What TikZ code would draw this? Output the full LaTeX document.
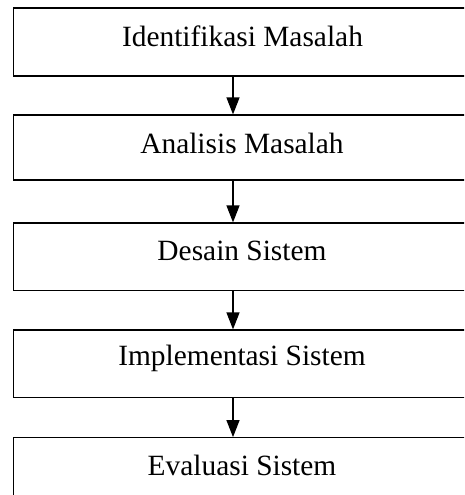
\documentclass[tikz,border=0pt]{standalone}
\usepackage{fontspec}
\setmainfont{Liberation Serif}
\usetikzlibrary{arrows.meta}
\begin{document}
\begin{tikzpicture}[x=1pt,y=-1pt,
  box/.style={draw=black, line width=1.2pt, rectangle, inner sep=0pt, minimum width=480pt},
  lbl/.style={anchor=base, font=\fontsize{29.4}{34}\selectfont, inner sep=0pt},
  flow/.style={draw=black, line width=1.2pt, -{Triangle[length=17pt,width=13pt]}}]
\useasboundingbox (0,0) rectangle (464,495);
\clip (0,0) rectangle (464,495);
\coordinate (ax) at (233,0);
\node[box, minimum height=68pt] (b1) at (253.5,42) {};
\node[box, minimum height=65pt] (b2) at (253.5,147.5) {};
\node[box, minimum height=67.5pt] (b3) at (253.5,256.75) {};
\node[box, minimum height=67.5pt] (b4) at (253.5,363.75) {};
\node[box, minimum height=68pt] (b5) at (253.5,471.7) {};
\node[lbl] (t1) at (242.5,46.7) {Identifikasi Masalah};
\node[lbl] (t2) at (242,153.3) {Analisis Masalah};
\node[lbl] (t3) at (242,260.7) {Desain Sistem};
\node[lbl] (t4) at (242,365) {Implementasi Sistem};
\node[lbl] (t5) at (242,475) {Evaluasi Sistem};
\draw[flow] (b1.south -| ax) -- (b2.north -| ax);
\draw[flow] (b2.south -| ax) -- (b3.north -| ax);
\draw[flow] (b3.south -| ax) -- (b4.north -| ax);
\draw[flow] (b4.south -| ax) -- (b5.north -| ax);
\end{tikzpicture}
\end{document}
